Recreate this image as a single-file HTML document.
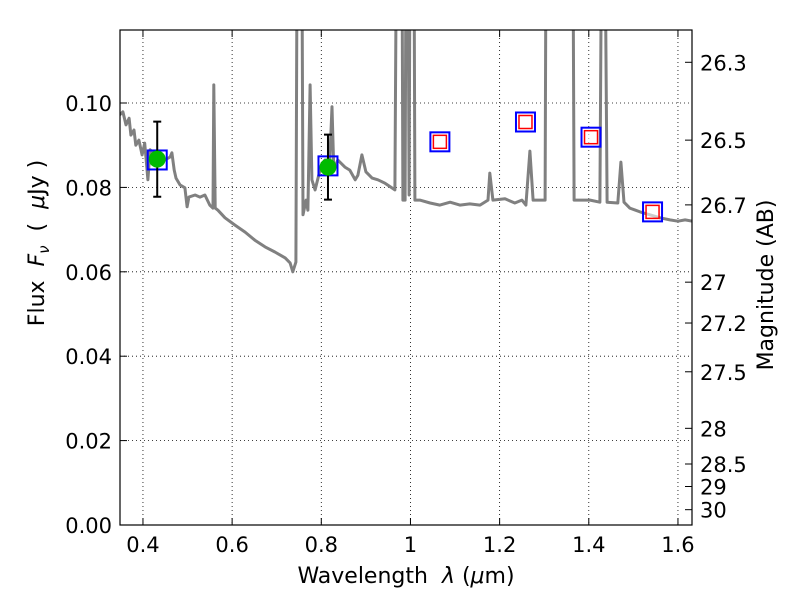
<!DOCTYPE html>
<html><head><meta charset="utf-8"><style>
body{margin:0;background:#fff}
svg text{font-family:"DejaVu Sans","Liberation Sans",sans-serif;fill:#000}
</style></head><body>
<svg id="c" width="800" height="600"></svg>
<script>
const specWl=[.348,.355,.362,.369,.373,.380,.384,.391,.398,.404,.411,.416,.427,.438,.449,.461,.465,.470,.474,.483,.494,.499,.503,.517,.528,.539,.550,.557,.559,.562,.568,.584,.606,.629,.651,.674,.696,.719,.730,.736,.743,.748,.754,.759,.766,.770,.775,.779,.786,.797,.808,.819,.824,.828,.837,.853,.864,.876,.882,.891,.900,.914,.927,.943,.965,.972,.979,.983,.988,.992,.997,1.001,1.006,1.010,1.021,1.044,1.066,1.089,1.111,1.133,1.156,1.174,1.178,1.185,1.212,1.234,1.250,1.259,1.268,1.275,1.302,1.306,1.362,1.367,1.403,1.425,1.432,1.441,1.465,1.472,1.479,1.492,1.515,1.537,1.560,1.582,1.600,1.616,1.632];
const specFlux=[.0972,.0979,.0948,.0964,.0924,.0936,.0900,.0912,.0877,.0905,.0818,.0889,.0877,.0860,.0865,.0872,.0882,.0841,.0822,.0806,.0799,.0754,.0777,.0782,.0777,.0782,.0758,.0751,.1043,.0751,.0746,.0728,.0711,.0694,.0675,.0659,.0647,.0633,.0621,.0600,.0623,.2,.2,.0735,.0770,.0746,.1043,.0818,.0794,.0841,.0865,.0865,.0991,.0841,.0865,.0848,.0841,.0818,.0829,.0877,.0837,.0822,.0818,.0810,.0794,.2,.2,.0770,.0770,.2,.0782,.2,.2,.0770,.0770,.0763,.0758,.0765,.0758,.0761,.0758,.0770,.0834,.0770,.0773,.0763,.0770,.0758,.0886,.0770,.0770,.2,.2,.0770,.0770,.0765,.2,.0765,.0763,.0860,.0765,.0751,.0742,.0735,.0728,.0723,.0720,.0723,.0720];
const obsWl=[0.432,0.815];
const obsFlux=[0.0867,0.0848];
const obsErr=[0.0089,0.0077];
const modelWl=[0.432,0.815,1.066,1.258,1.405,1.543];
const modelFlux=[0.0865,0.0851,0.0908,0.0955,0.0919,0.0742];
const limitWl=[1.066,1.258,1.405,1.543];
const limitFlux=[0.0908,0.0955,0.0919,0.0742];
const xTicks=[0.4,0.6,0.8,1.0,1.2,1.4,1.6];
const xTickLabels=["0.4","0.6","0.8","1","1.2","1.4","1.6"];
const yTicks=[0,0.02,0.04,0.06,0.08,0.10];
const yTickLabels=["0.00","0.02","0.04","0.06","0.08","0.10"];
const magTicks=[26.3,26.5,26.7,27,27.2,27.5,28,28.5,29,30];
const magLabels=["26.3","26.5","26.7","27","27.2","27.5","28","28.5","29","30"];

const L=120,R=692,T=30,B=525,xmin=0.3485,xmax=1.6315,ymin=0,ymax=0.1173;
const X=v=>L+(v-xmin)/(xmax-xmin)*(R-L);
const Y=v=>B-(v-ymin)/(ymax-ymin)*(B-T);
const svg=document.getElementById('c');
const NS='http://www.w3.org/2000/svg';
function mk(tag,attrs,parent){const e=document.createElementNS(NS,tag);for(const k in attrs)e.setAttribute(k,attrs[k]);(parent||svg).appendChild(e);return e;}
const defs=mk('defs',{});const cp=mk('clipPath',{id:'clip'},defs);mk('rect',{x:L,y:T,width:R-L,height:B-T},cp);

xTicks.forEach((t,i)=>{
 const g=mk('line',{x1:X(t),x2:X(t),y1:T,y2:B,stroke:'#000','stroke-width':0.8,'stroke-dasharray':'1,3'});
 
 
 mk('line',{x1:X(t),x2:X(t),y1:B,y2:B-7,stroke:'#000'});
 mk('line',{x1:X(t),x2:X(t),y1:T,y2:T+7,stroke:'#000'});
 const tx=mk('text',{x:X(t),y:B+27,'font-size':21,'text-anchor':'middle'});tx.textContent=xTickLabels[i];
 
 
});
yTicks.forEach((t,i)=>{
 const g=mk('line',{x1:L,x2:R,y1:Y(t),y2:Y(t),stroke:'#000','stroke-width':0.8,'stroke-dasharray':'1,3'});
 
 
 mk('line',{x1:L,x2:L+7,y1:Y(t),y2:Y(t),stroke:'#000'});
 const tx=mk('text',{x:L-8,y:Y(t)+8,'font-size':21,'text-anchor':'end'});tx.textContent=yTickLabels[i];
 
 
});
magTicks.forEach((m,i)=>{
 const f=Math.pow(10,(23.9-m)/2.5);const y=Y(f);
 mk('line',{x1:R,x2:R-7,y1:y,y2:y,stroke:'#000'});
 const tx=mk('text',{x:R+8,y:y+8,'font-size':21});tx.textContent=magLabels[i];
 
 
});

let d='';specWl.forEach((w,i)=>{d+=(i?'L':'M')+X(w).toFixed(1)+','+Y(specFlux[i]).toFixed(1);});
const sp=mk('path',{d:d,fill:'none',stroke:'#808080','stroke-width':3,'clip-path':'url(#clip)','stroke-linejoin':'round'});



modelWl.forEach((w,i)=>{
 const r=mk('rect',{x:X(w)-9.5,y:Y(modelFlux[i])-9.5,width:19,height:19,fill:'none',stroke:'#0000ff','stroke-width':2});
 
 
});
limitWl.forEach((w,i)=>{
 const r=mk('rect',{x:X(w)-6.5,y:Y(limitFlux[i])-6.5,width:13,height:13,fill:'#fff','fill-opacity':0.6,stroke:'#ff0000','stroke-width':1.5});
 
 
});
obsWl.forEach((w,i)=>{
 const x=X(w),y1=Y(obsFlux[i]+obsErr[i]),y2=Y(obsFlux[i]-obsErr[i]);
 const eb=mk('path',{d:`M${x},${y1}V${y2}M${x-4},${y1}H${x+4}M${x-4},${y2}H${x+4}`,stroke:'#000','stroke-width':2,fill:'none'});
 
 
 const c=mk('circle',{cx:x,cy:Y(obsFlux[i]),r:8.5,fill:'#00bb00'});
 
 
});
mk('rect',{x:L,y:T,width:R-L,height:B-T,fill:'none',stroke:'#000','stroke-width':1.2});
</script>
<svg width="800" height="600" style="position:absolute;left:0;top:0">
<text x="406" y="583" font-size="22" text-anchor="middle" font-family="DejaVu Sans,sans-serif" xml:space="preserve">Wavelength  <tspan font-style="italic">λ</tspan> (<tspan font-style="italic">μ</tspan>m)</text>
<text transform="translate(44,243) rotate(-90)" font-size="22" text-anchor="middle" font-family="DejaVu Sans,sans-serif" xml:space="preserve">Flux  <tspan font-style="italic">F</tspan><tspan font-style="italic" font-size="15" dy="5">ν</tspan><tspan dy="-5">  (  </tspan><tspan font-style="italic">μ</tspan>Jy )</text>
<text transform="translate(773,285) rotate(-90)" font-size="22" text-anchor="middle" font-family="DejaVu Sans,sans-serif">Magnitude (AB)</text>
</svg>
</body></html>
